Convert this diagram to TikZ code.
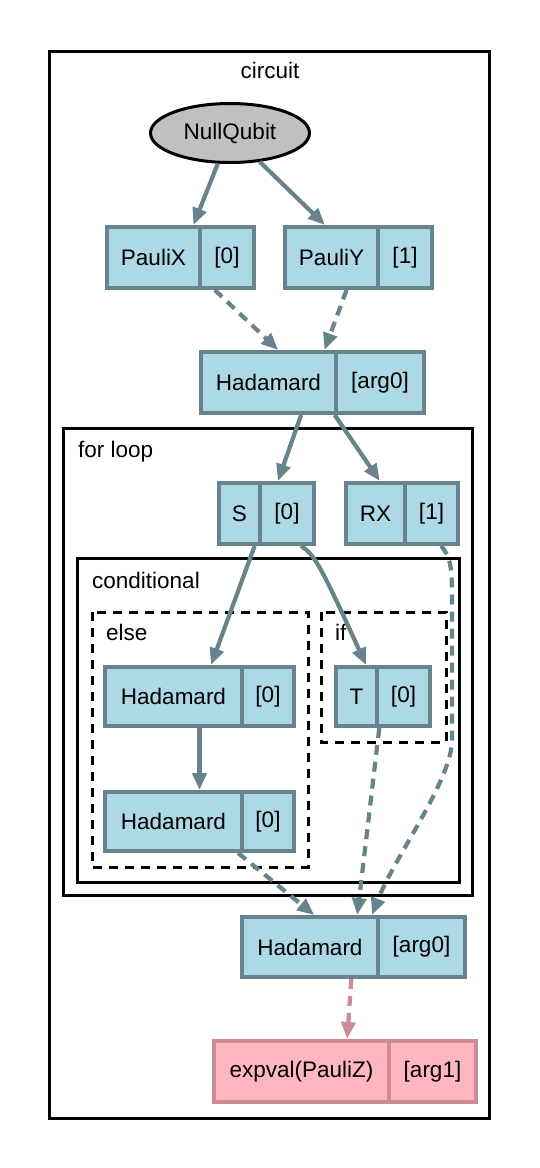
\documentclass[tikz,border=0pt]{standalone}
\usepackage{fontspec}
\setmainfont{Liberation Sans}
\usetikzlibrary{arrows.meta,shapes.geometric,fit,calc}
\definecolor{lb}{HTML}{ADD8E6}
\definecolor{lbfour}{HTML}{68838B}
\definecolor{lp}{HTML}{FFB6C1}
\definecolor{lpthree}{HTML}{CD8C95}
\definecolor{nqgray}{HTML}{C0C0C0}
\newcommand\gvfont{\fontsize{22.5}{27}\selectfont}
% style name x1 xdiv x2 ytop ybot text1 text2
\newcommand\mkrec[9]{%
  \node[#1, anchor=north west, minimum width={#4-#3-2}, minimum height={#7-#6-4}] (#2L) at (#3,#6) {#8};
  \node[#1, anchor=north west, minimum width={#5-#4-2}, minimum height={#7-#6-4}] (#2R) at (#4-2,#6) {#9};
  \node[fit=(#2L)(#2R), inner sep=0pt, outer sep=0pt] (#2) {};
}
\tikzset{
  fld/.style={draw=lbfour, fill=lb, line width=4pt, inner sep=1pt, font=\gvfont},
  pfld/.style={draw=lpthree, fill=lp, line width=4pt, inner sep=1pt, font=\gvfont},
  conn/.style={draw=lbfour, line width=4.2pt, -{Triangle[length=17pt,width=14pt]}},
  dconn/.style={conn, dash pattern=on 10pt off 7pt},
  clus/.style={draw=black, line width=3pt},
  dclus/.style={clus, dash pattern=on 9pt off 7pt},
  lbl/.style={font=\gvfont, inner sep=0pt, anchor=base west},
}
\begin{document}
\begin{tikzpicture}[x=1pt, y=-1pt]
\useasboundingbox (0,0) rectangle (539,1168);
% clusters
\draw[clus] (49,51) rectangle (489,1118);
\node[lbl, anchor=base] (lcircuit) at (270,78) {circuit};
\draw[clus] (63,428) rectangle (472,895);
\node[lbl] (lfor) at (78,457) {for loop};
\draw[clus] (77,558) rectangle (459,882);
\node[lbl] (lcond) at (92,588) {conditional};
\draw[dclus] (92,612) rectangle (308,867);
\node[lbl] (lelse) at (106,640) {else};
\draw[dclus] (321,612) rectangle (446,742);
\node[lbl] (lif) at (335,640) {if};
% nodes
\node[ellipse, draw=black, fill=nqgray, line width=3pt, minimum width=159pt, minimum height=59pt, inner sep=0pt, font=\gvfont] (nq) at (230,133) {NullQubit};
\mkrec{fld}{px}{105}{200}{256}{225}{290}{PauliX}{[0]}
\mkrec{fld}{py}{283}{378}{434}{225}{290}{PauliY}{[1]}
\mkrec{fld}{ht}{199}{336}{426}{350}{415}{Hadamard}{[arg0]}
\mkrec{fld}{s}{217}{260}{316}{481}{546}{S}{[0]}
\mkrec{fld}{rx}{344}{405}{460}{481}{546}{RX}{[1]}
\mkrec{fld}{he1}{103}{242}{296}{665}{728}{Hadamard}{[0]}
\mkrec{fld}{t}{334}{377}{432}{665}{728}{T}{[0]}
\mkrec{fld}{he2}{103}{242}{296}{790}{853}{Hadamard}{[0]}
\mkrec{fld}{hb}{240}{378}{467}{915}{979}{Hadamard}{[arg0]}
\mkrec{pfld}{ev}{212}{389}{478}{1039}{1104}{expval(PauliZ)}{[arg1]}
% connectors
\draw[conn] (nq) -- (px);
\draw[conn] (nq) -- (py);
\draw[dconn] (px) -- (ht);
\draw[dconn] (py) -- (ht);
\draw[conn] (ht) -- (s);
\draw[conn] (ht) -- (rx);
\draw[conn] (s) -- (he1);
\draw[conn] ([xshift=14pt]sR.south) .. controls +(13,8) and +(-46,-101) .. ([xshift=9.5pt]tL.north);
\draw[conn] (he1) -- (he2);
\draw[dconn] (he2) -- (hb);
\draw[dconn] (t) -- (hb);
\draw[dconn] ([xshift=9.5pt]rxR.south) .. controls (452,558) and (452,570) .. (452,610) -- (452,740) .. controls (452,780) and (394,858) .. ([xshift=18.5pt]hb.north);
\draw[dconn, draw=lpthree] (hb) -- (ev);
\end{tikzpicture}
\end{document}
